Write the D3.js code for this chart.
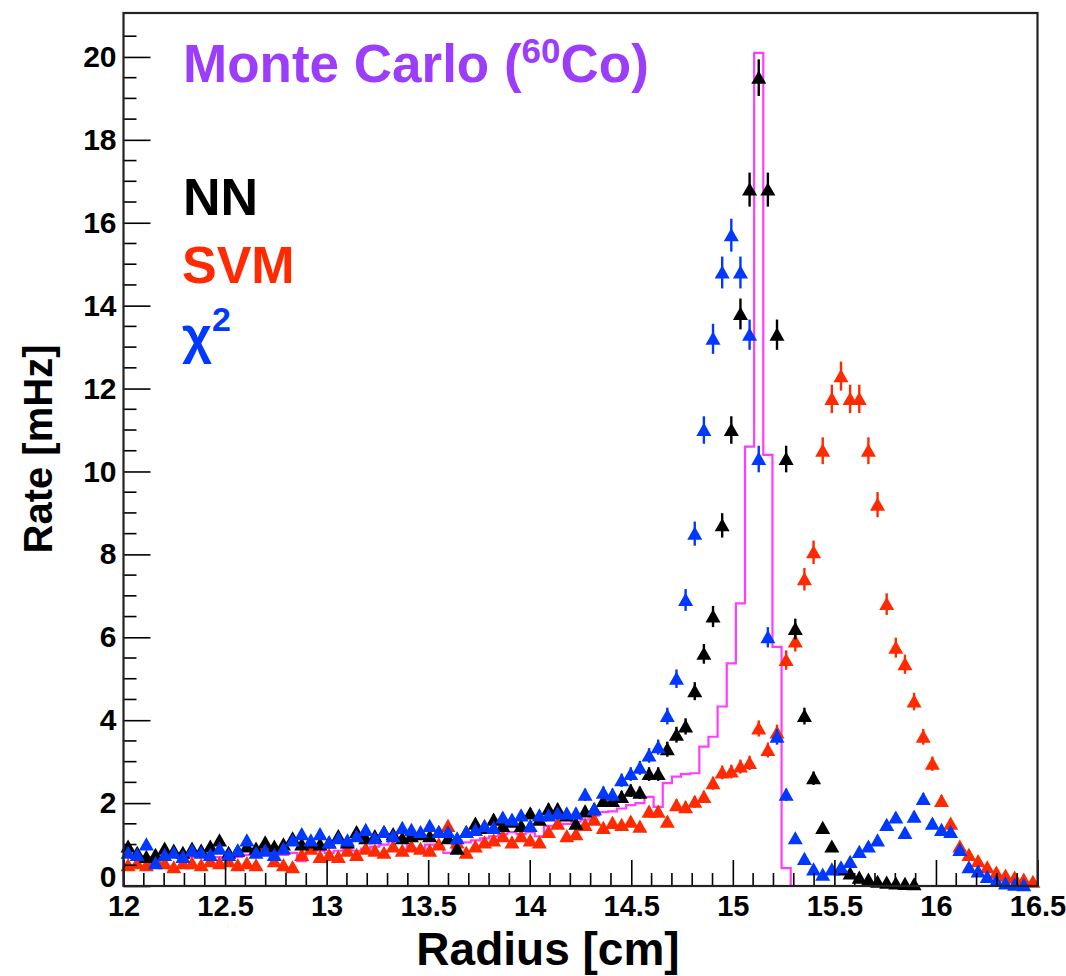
<!DOCTYPE html>
<html>
<head>
<meta charset="utf-8">
<script src="https://cdn.jsdelivr.net/npm/d3@7"></script>
<style>
  html, body { margin: 0; padding: 0; background: #fff; }
  svg { display: block; }
  text { font-family: "Liberation Sans", Arial, Helvetica, sans-serif; font-weight: bold; }
</style>
</head>
<body>
<svg id="chart" width="1066" height="976"></svg>
<script>
// ---------- data ----------
const binStart = 12.0;
const binWidth = 0.045;           // 100 bins from 12 to 16.5 cm
const xTickLabels = ["12", "12.5", "13", "13.5", "14", "14.5", "15", "15.5", "16", "16.5"];
const yTickLabels = ["0", "2", "4", "6", "8", "10", "12", "14", "16", "18", "20"];

// Monte Carlo (60Co) histogram, rate per bin [mHz]
const mcRate = [
  0.7, 0.65, 0.6, 0.7, 0.65, 0.7, 0.65, 0.7, 0.75, 0.7,
  0.7, 0.75, 0.7, 0.75, 0.7, 0.75, 0.8, 0.75, 0.8, 0.6,
  0.8, 0.85, 0.8, 0.85, 0.9, 0.85, 0.9, 0.95, 1.0, 1.25,
  1.3, 0.85, 0.9, 1.0, 0.95, 0.8, 1.1, 1.05, 1.1, 1.15,
  1.2, 1.25, 1.3, 1.25, 1.3, 1.2, 1.45, 1.4, 1.5, 1.55,
  1.6, 1.7, 1.78, 1.8, 1.87, 1.95, 2.0, 2.15, 1.91, 2.48,
  2.64, 2.7, 2.72, 3.36, 3.6, 4.33, 5.37, 6.82, 10.6, 20.1,
  10.4, 5.77, 0.43, 0, 0, 0, 0, 0, 0, 0,
  0, 0, 0, 0, 0, 0, 0, 0, 0, 0,
  0, 0, 0, 0, 0, 0, 0, 0, 0, 0
];

// NN reconstruction
const nnRate = [
  0.95, 0.8, 0.7, 0.75, 0.9, 0.85, 0.8, 0.9, 0.85, 0.95,
  1.1, 0.8, 0.85, 0.95, 0.9, 1.05, 0.95, 1.0, 1.15, 1.0,
  1.05, 1.0, 1.05, 1.2, 1.05, 1.3, 1.15, 1.2, 1.3, 1.25,
  1.15, 1.2, 1.25, 1.2, 1.3, 1.15, 0.9, 1.3, 1.5, 1.4,
  1.6, 1.45, 1.55, 1.45, 1.75, 1.6, 1.85, 1.85, 1.7, 1.5,
  1.8, 1.85, 2.05, 2.05, 2.15, 2.3, 2.25, 2.7, 2.7, 3.3,
  3.65, 3.85, 4.7, 5.6, 6.5, 8.7, 11.0, 13.8, 16.8, 19.5,
  16.8, 13.3, 10.3, 6.2, 4.1, 2.6, 1.4, 0.95, 0.4, 0.3,
  0.2, 0.15, 0.1, 0.08, 0.06, 0.05, 0.04, null, null, null,
  null, null, null, null, null, null, null, null, null, null
];

// SVM reconstruction
const svmRate = [
  0.5, 0.55, 0.5, 0.65, 0.55, 0.45, 0.55, 0.55, 0.5, 0.6,
  0.55, 0.6, 0.5, 0.55, 0.5, 1.0, 0.6, 0.5, 0.45, 0.75,
  0.9, 0.7, 0.75, 0.7, 0.85, 0.75, 0.9, 0.85, 0.8, 0.95,
  0.85, 0.95, 0.9, 0.85, 1.0, 1.45, 1.05, 0.8, 0.95, 1.05,
  1.1, 1.2, 1.05, 1.2, 1.1, 1.05, 1.3, 1.5, 1.2, 1.25,
  1.47, 1.6, 1.4, 1.52, 1.47, 1.55, 1.43, 1.79, 1.79, 1.55,
  1.95, 1.9, 2.03, 2.15, 2.48, 2.74, 2.76, 2.88, 2.97, 3.8,
  3.28, 3.7, 5.45, 5.9, 7.4, 8.05, 10.5, 11.75, 12.3, 11.75,
  11.75, 10.5, 9.2, 6.8, 5.75, 5.35, 4.45, 3.6, 2.95, 2.05,
  1.5, 0.95, 0.75, 0.6, 0.45, 0.32, 0.25, 0.2, 0.15, 0.1
];

// chi-square reconstruction
const chi2Rate = [
  0.8, 0.75, 1.0, 0.55, 0.75, 0.8, 0.7, 0.85, 0.8, 0.75,
  0.9, 0.75, 0.85, 1.1, 0.8, 0.85, 0.75, 0.9, 1.1, 1.25,
  1.1, 1.25, 1.05, 1.15, 1.1, 1.2, 1.35, 1.15, 1.3, 1.2,
  1.4, 1.35, 1.3, 1.45, 1.3, 1.3, 1.15, 1.3, 1.35, 1.45,
  1.4, 1.65, 1.6, 1.7, 1.45, 1.7, 1.7, 1.75, 1.75, 1.75,
  2.2, 1.85, 2.25, 2.2, 2.55, 2.7, 2.85, 3.15, 3.35, 4.1,
  5.0, 6.9, 8.5, 11.0, 13.2, 14.8, 15.7, 14.8, 13.3, 10.3,
  6.0, 3.6, 2.2, 1.15, 0.65, 0.4, 0.27, 0.4, 0.45, 0.58,
  0.82, 0.95, 1.1, 1.47, 1.65, 1.28, 1.67, 2.1, 1.5, 1.35,
  1.3, 0.87, 0.45, 0.35, 0.22, 0.12, 0.06, 0.03, 0.02, null
];

// ---------- layout ----------
const svg = d3.select("#chart");
const plot = { left: 123.5, right: 1037.5, top: 13, bottom: 886 };

const x = d3.scaleLinear().domain([12, 16.5]).range([plot.left, plot.right]);
const y = d3.scaleLinear().domain([0, 21.06]).range([plot.bottom, plot.top]);

const colors = { mc: "#ff3cff", nn: "#000000", svm: "#ff2a00", chi2: "#0038ff", title: "#9b3dfa" };

// ---------- MC histogram (step) ----------
const edges = d3.range(mcRate.length + 1).map(i => binStart + i * binWidth);
const stepPts = [[edges[0], 0]];
mcRate.forEach((v, i) => stepPts.push([edges[i], v]));
stepPts.push([edges[mcRate.length], mcRate[mcRate.length - 1]]);
stepPts.push([edges[mcRate.length], 0]);

svg.append("path")
  .datum(stepPts)
  .attr("fill", "none")
  .attr("stroke", colors.mc)
  .attr("stroke-width", 2.2)
  .attr("d", d3.line().x(d => x(d[0])).y(d => y(d[1])).curve(d3.curveStepAfter));

// ---------- data points ----------
const tri = "M0,-7.2L7.5,6L-7.5,6Z";
function drawSeries(vals, color) {
  const pts = vals.map((v, i) => ({ xc: binStart + (i + 0.5) * binWidth, v }))
                  .filter(d => d.v !== null);
  const g = svg.append("g");
  g.selectAll("line").data(pts).join("line")
    .attr("x1", d => x(d.xc)).attr("x2", d => x(d.xc))
    .attr("y1", d => y(d.v + 0.1 * Math.sqrt(d.v)))
    .attr("y2", d => y(Math.max(0, d.v - 0.1 * Math.sqrt(d.v))))
    .attr("stroke", color).attr("stroke-width", 2.4);
  g.selectAll("path").data(pts).join("path")
    .attr("d", tri)
    .attr("transform", d => `translate(${x(d.xc)},${y(d.v)})`)
    .attr("fill", color);
}
drawSeries(svmRate, colors.svm);
drawSeries(nnRate, colors.nn);
drawSeries(chi2Rate, colors.chi2);

// ---------- axes ----------
const xMajor = xTickLabels.map(Number);
const yMajor = yTickLabels.map(Number);

const xAxis = d3.axisBottom(x).tickValues(xMajor).tickFormat((d, i) => xTickLabels[i])
  .tickSize(-26).tickSizeOuter(0).tickPadding(9);
const gx = svg.append("g").attr("transform", `translate(0,${plot.bottom})`).call(xAxis);
gx.selectAll("text").attr("font-size", 29).attr("fill", "#000");

const xMinor = d3.range(12, 16.5001, 0.1).filter(v => Math.abs(v * 2 - Math.round(v * 2)) > 1e-6);
svg.append("g").selectAll("line").data(xMinor).join("line")
  .attr("x1", d => x(d)).attr("x2", d => x(d))
  .attr("y1", plot.bottom).attr("y2", plot.bottom - 13)
  .attr("stroke", "#000").attr("stroke-width", 1.6);

const yAxis = d3.axisLeft(y).tickValues(yMajor).tickFormat((d, i) => yTickLabels[i])
  .tickSize(-27).tickSizeOuter(0).tickPadding(7);
const gy = svg.append("g").attr("transform", `translate(${plot.left},0)`).call(yAxis);
gy.selectAll("text").attr("font-size", 30).attr("fill", "#000");
gy.selectAll(".tick").filter(d => d === 0).select("text").attr("dy", "0.02em");

const yMinor = d3.range(0.5, 21.0, 0.5).filter(v => Math.abs(v / 2 - Math.round(v / 2)) > 1e-6);
svg.append("g").selectAll("line").data(yMinor).join("line")
  .attr("x1", plot.left).attr("x2", plot.left + 13)
  .attr("y1", d => y(d)).attr("y2", d => y(d))
  .attr("stroke", "#000").attr("stroke-width", 1.6);

[gx, gy].forEach(g => {
  g.selectAll(".tick line").attr("stroke", "#000").attr("stroke-width", 1.6);
  g.select(".domain").remove();
});

// frame
svg.append("rect")
  .attr("x", plot.left).attr("y", plot.top)
  .attr("width", plot.right - plot.left).attr("height", plot.bottom - plot.top)
  .attr("fill", "none").attr("stroke", "#222").attr("stroke-width", 2.2);

// axis titles
svg.append("text")
  .attr("x", 548).attr("y", 965)
  .attr("text-anchor", "middle").attr("font-size", 46)
  .text("Radius [cm]");

svg.append("text")
  .attr("transform", "translate(52,449) rotate(-90)")
  .attr("text-anchor", "middle").attr("font-size", 40)
  .text("Rate [mHz]");

// ---------- legend text ----------
const t1 = svg.append("text").attr("x", 183).attr("y", 82).attr("font-size", 53).attr("fill", colors.title);
t1.append("tspan").text("Monte Carlo (");
t1.append("tspan").attr("font-size", 35).attr("dy", -19).text("60");
t1.append("tspan").attr("dy", 19).text("Co)");

svg.append("text").attr("x", 183).attr("y", 215).attr("font-size", 52).attr("fill", colors.nn).text("NN");
svg.append("text").attr("x", 182).attr("y", 283).attr("font-size", 52).attr("fill", colors.svm).text("SVM");
const t4 = svg.append("text").attr("x", 182).attr("y", 353).attr("font-size", 52).attr("fill", colors.chi2);
t4.append("tspan").text("χ");
t4.append("tspan").attr("font-size", 34).attr("dy", -22).text("2");
</script>
</body>
</html>
